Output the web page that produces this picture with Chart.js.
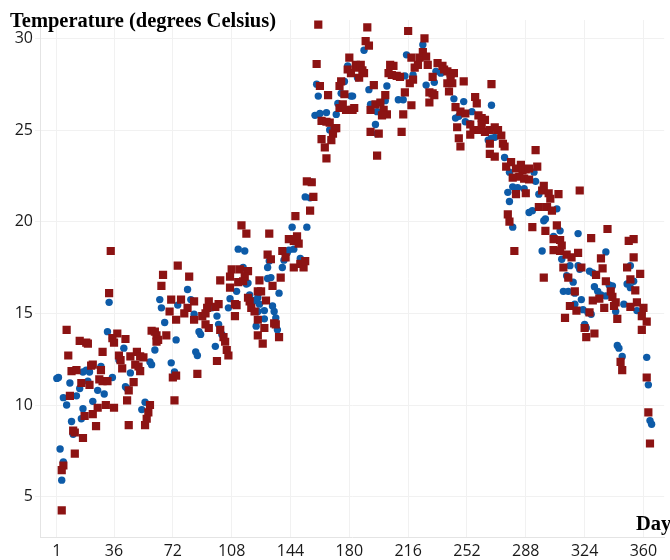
<!DOCTYPE html>
<html><head><meta charset="utf-8">
<script src="https://cdn.jsdelivr.net/npm/chart.js@4.4.1/dist/chart.umd.min.js"></script>
<style>html,body{margin:0;padding:0;background:#fff;}#wrap{width:670px;height:560px;position:relative;}</style>
</head><body><div id="wrap"><canvas id="c" width="670" height="560"></canvas></div>
<script>
const yTitle = "Temperature (degrees Celsius)";
const xTitle = "Day";
const xTicks = [1,36,72,108,144,180,216,252,288,324,360];
const yTicks = [5,10,15,20,25,30];

// Blue circles: [day, temperature]
const blueSeries = [
[1,11.45],[2,11.5],[9,11.2],[5,10.4],[7,10.0],[13,10.5],[15,10.9],[17,9.8],[10,9.1],[11,8.4],[3,7.6],[5,6.9],[4,5.9],
[17,11.8],[19,11.9],[21,11.8],[20,11.3],[23,10.2],[16,9.25],[26,10.8],[30,10.6],[28,12.1],[33,15.6],[32,14.0],[35,11.5],
[35,13.65],[42,13.1],[39,12.45],[43,11.0],[46,11.75],[44,10.9],[55,10.15],[53,9.75],[58,12.35],[59,12.2],[61,13.0],
[64,15.75],[65,15.3],[67,14.5],[71,12.3],[73,11.8],[74,13.55],
[112,18.5],[116,18.4],[81,16.3],[75,15.45],[83,15.75],[85,14.95],[88,14.0],[89,13.85],[86,12.9],[87,12.7],
[96,15.3],[99,14.85],[100,14.4],[102,13.85],[98,13.2],[107,15.8],[106,15.3],[111,16.2],[115,17.5],[118,16.65],[117,16.6],
[119,16.0],[122,15.7],[124,15.85],[125,15.5],[124,15.1],[128,15.15],[128,14.7],[123,14.3],[130,16.9],[132,16.95],[137,16.1],
[133,15.4],[134,15.1],[135,14.75],[136,14.1],[131,17.85],[130,17.5],[139,17.5],[140,17.9],[145,19.7],[143,18.45],[142,18.3],
[146,18.5],[150,18.0],[153,21.35],
[160,27.5],[161,26.85],[159,25.8],[162,25.9],[166,25.95],[163,25.5],[168,25.0],[169,24.45],[172,25.85],[173,26.45],[175,27.0],
[177,27.65],[179,28.5],[181,26.85],[182,26.85],[185,27.85],[189,29.35],[192,27.2],[193,26.4],[197,26.0],[196,25.3],[197,24.8],
[202,26.6],[203,27.4],[210,26.65],[213,26.65],[214,27.95],[215,29.1],[219,28.0],[225,29.65],[227,27.45],[154,19.7],[156,21.3],[157,22.15],
[232,27.6],[233,28.2],[236,28.1],[244,26.7],[250,26.55],[245,25.65],[247,25.75],[251,25.45],[254,25.35],[255,26.0],[267,26.35],
[265,24.45],[267,24.55],[269,24.6],[275,23.5],[278,22.7],[280,21.9],[283,21.85],[277,21.6],[278,21.1],[287,21.8],[280,19.7],
[290,20.5],[292,20.6],[294,22.2],[296,21.5],[299,20.05],[300,20.15],[298,18.4],[293,22.7],
[307,20.7],[305,19.2],[309,19.5],[320,19.35],[310,17.95],[315,17.6],[320,17.6],[321,17.4],[327,17.3],[313,17.05],[317,16.7],
[311,16.2],[314,16.2],[318,16.1],[322,15.75],[318,15.5],[323,15.2],[326,15.05],[328,14.95],[324,14.4],[325,14.2],[337,18.35],
[329,17.2],[330,16.45],[332,16.2],[334,16.0],[339,16.55],[341,16.5],[337,15.95],[343,15.1],[348,15.5],[352,17.6],[354,16.75],
[350,16.6],[352,16.4],[356,15.15],[359,15.0],[344,13.25],[345,13.1],[347,12.65],[362,12.6],[363,11.1],[364,9.15],[365,8.95]
];

// Dark red squares: [day, temperature]
const redSeries = [
[34,18.4],[33,16.1],[7,14.1],[15,13.5],[19,13.4],[20,13.35],[8,12.7],[29,12.9],[10,11.85],[13,11.9],[22,12.15],[23,12.2],
[28,11.9],[16,11.2],[21,11.1],[27,11.4],[29,11.3],[32,11.3],[9,10.5],[31,10.0],[36,9.85],[26,9.85],[23,9.5],[18,9.4],[25,8.85],
[11,8.6],[12,8.5],[17,8.2],[12,7.35],[5,6.7],[4,6.45],[4,4.25],[38,13.9],[35,13.65],[36,13.4],[43,13.6],[39,12.7],[40,12.45],
[41,12.0],[46,12.65],[50,12.9],[52,12.65],[54,12.6],[49,12.2],[51,12.1],[52,11.85],[48,11.25],[45,10.8],[44,10.25],[45,8.9],
[58,10.0],[57,9.6],[56,9.25],[55,8.9],[59,14.05],[61,14.0],[62,13.8],[63,13.55],[62,13.45],[68,13.8],[66,17.1],[65,16.5],
[71,15.75],[75,17.6],[70,15.1],[74,14.65],[73,10.25],[72,11.5],[74,11.6],
[114,19.8],[117,19.35],[131,19.35],[82,17.0],[101,16.8],[108,17.4],[113,17.4],[118,17.3],[116,17.0],[112,16.7],[115,16.75],
[107,16.4],[125,16.8],[124,16.2],[126,16.2],[130,18.2],[132,17.95],[138,16.95],[133,16.5],[129,15.7],[147,20.3],[143,19.05],
[146,18.95],[148,19.2],[149,18.8],[139,18.4],[141,18.05],[146,17.5],[150,17.7],[152,17.5],[153,17.85],[154,22.2],
[77,15.75],[85,15.65],[94,15.65],[100,15.5],[93,15.3],[98,15.35],[81,15.3],[79,15.0],[85,14.65],[90,14.85],[92,14.4],[94,14.2],
[101,14.1],[103,13.7],[104,13.45],[105,13.0],[106,12.7],[99,12.4],[87,11.7],[92,15.0],
[107,17.0],[110,15.5],[111,15.45],[110,14.85],[118,15.85],[119,15.65],[120,15.3],[122,15.1],[124,14.65],[128,14.2],[124,13.8],
[127,13.35],[134,14.45],[135,14.4],[137,13.7],
[161,30.75],[191,30.6],[216,30.4],[226,30.0],[160,28.6],[162,27.4],[167,26.9],[163,25.5],[166,25.45],[168,25.4],[171,25.1],
[172,25.1],[170,24.8],[169,24.45],[163,24.5],[165,24.05],[166,23.45],[174,27.4],[175,27.65],[177,26.95],[174,26.2],[176,26.4],
[178,26.1],[182,26.1],[183,26.2],[180,28.95],[179,28.3],[181,28.1],[184,28.55],[185,28.4],[187,28.55],[188,28.25],[186,27.85],
[189,28.1],[190,29.85],[192,29.6],[195,27.45],[193,26.1],[196,26.4],[199,26.5],[201,26.1],[203,25.85],[200,25.8],[202,26.9],
[193,24.9],[198,24.8],[197,23.6],[205,28.55],[207,28.5],[204,28.1],[206,28.0],[209,27.95],[211,27.9],[213,25.85],[212,24.9],
[218,26.35],[214,27.05],[217,27.55],[219,27.75],[220,28.4],[222,28.55],[223,28.95],[225,29.25],[227,29.0],[228,28.55],[218,28.95],
[229,27.05],[229,26.5],[231,27.0],[232,26.9],[157,22.15],[158,21.35],[156,20.6],
[234,28.65],[237,28.5],[238,28.3],[240,28.2],[242,28.1],[244,28.1],[242,27.85],[240,27.55],[243,27.55],[241,27.1],[231,27.9],
[250,27.65],[267,27.5],[257,26.8],[258,26.45],[245,26.25],[248,26.0],[251,25.9],[246,25.15],[247,24.55],[248,24.1],[254,25.3],
[256,25.0],[254,24.75],[259,25.8],[261,25.65],[263,25.55],[260,25.0],[263,24.9],[261,25.3],[266,25.0],[269,25.15],[271,25.0],
[273,24.7],[274,24.25],[275,24.1],[266,24.25],[266,23.7],[269,23.55],[276,23.0],[279,23.25],[282,22.9],[285,23.1],[286,22.8],
[288,22.85],[290,22.9],[284,22.45],[287,22.35],[290,22.3],[280,22.4],[282,21.5],[288,21.55],[295,23.0],[294,23.9],[277,20.4],
[278,20.0],[292,19.7],[301,20.8],[299,21.95],[298,21.7],[302,21.55],[303,21.25],[304,20.6],[300,19.5],[305,19.05],[305,18.45],
[281,18.4],[299,16.95],[296,20.8],
[308,21.5],[321,21.7],[307,19.8],[309,19.0],[310,18.7],[309,18.4],[338,19.6],[328,19.1],[351,18.95],[354,19.05],[354,18.05],
[358,17.15],[350,17.5],[355,16.25],[356,15.6],[360,15.3],[359,14.85],[362,14.55],[359,14.1],[352,16.85],
[313,18.2],[316,18.05],[320,18.3],[311,17.5],[314,16.95],[322,17.5],[334,18.0],[335,17.45],[331,17.1],[337,16.75],[318,16.2],
[315,15.4],[319,15.15],[312,14.75],[340,16.2],[341,15.9],[343,15.6],[342,15.4],[336,15.3],[333,15.8],[329,15.7],[327,15.05],
[344,14.7],[352,15.35],[324,14.2],[325,13.7],[330,13.9],[346,12.35],[347,11.9],[362,11.5],[363,9.6],[364,7.9]
];

const toPts = arr => arr.map(p => ({x: p[0], y: p[1]}));

const textPlugin = {
  id: 'axisTexts',
  afterDraw(chart) {
    const ctx = chart.ctx;
    ctx.save();
    ctx.fillStyle = '#000';
    ctx.font = 'bold 20.5px "Liberation Serif", "Times New Roman", serif';
    ctx.textAlign = 'left';
    ctx.textBaseline = 'alphabetic';
    ctx.fillText(yTitle, 10, 27);
    ctx.fillText(xTitle, 636, 530);
    ctx.restore();
  }
};

const tickFont = {family: '"Open Sans", "Noto Sans", sans-serif', size: 16};

new Chart(document.getElementById('c'), {
  type: 'scatter',
  data: {
    datasets: [
      {label: 'Red', data: toPts(redSeries), pointStyle: 'rect', pointRadius: 5.8, pointHoverRadius: 5.8,
       backgroundColor: '#8c1313', borderWidth: 0},
      {label: 'Blue', data: toPts(blueSeries), pointStyle: 'circle', pointRadius: 3.7, pointHoverRadius: 3.7,
       backgroundColor: '#0d5ba8', borderWidth: 0}
    ]
  },
  options: {
    responsive: false,
    animation: false,
    layout: {padding: {top: 20, left: 0, right: 0, bottom: 0}},
    plugins: {legend: {display: false}, tooltip: {enabled: false}, title: {display: false}},
    scales: {
      x: {
        type: 'linear', min: -9.3, max: 372.7,
        afterBuildTicks: s => { s.ticks = xTicks.map(v => ({value: v})); },
        afterFit: s => { s.height = 23; },
        grid: {color: '#f1f1f1', drawTicks: false},
        border: {color: '#e4e4e4'},
        ticks: {padding: 5, font: tickFont, color: '#1a1a1a', maxRotation: 0, autoSkip: false}
      },
      y: {
        type: 'linear', min: 2.8, max: 31,
        afterBuildTicks: s => { s.ticks = yTicks.map(v => ({value: v})); },
        afterFit: s => { s.width = 40; },
        grid: {color: '#f1f1f1', tickLength: 5},
        border: {color: '#e4e4e4'},
        ticks: {padding: 2, font: tickFont, color: '#1a1a1a'}
      }
    }
  },
  plugins: [textPlugin]
});
</script></body></html>
